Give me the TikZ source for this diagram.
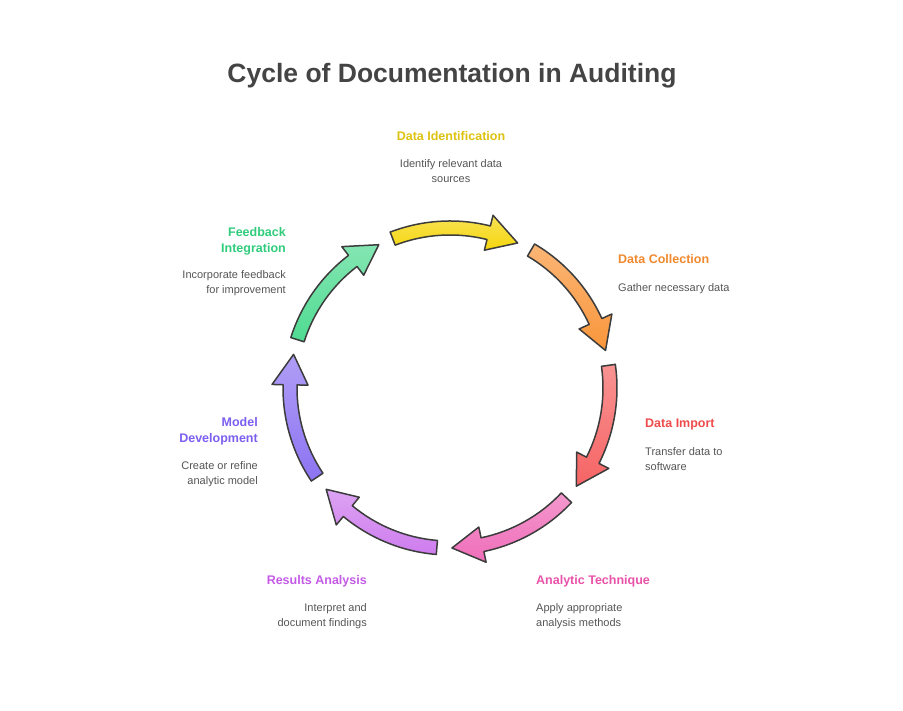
\documentclass[tikz,border=0pt]{standalone}
\usepackage{fontspec}
\setmainfont{Liberation Sans}
\usetikzlibrary{positioning}

\definecolor{titlegray}{HTML}{444444}
\definecolor{notegray}{HTML}{555555}
\definecolor{edgegray}{HTML}{3C3C3C}
% arrow fills
\definecolor{yel}{HTML}{F5D60C}
\definecolor{ora}{HTML}{F9963B}
\definecolor{red}{HTML}{F66464}
\definecolor{pnk}{HTML}{EF6DB9}
\definecolor{pur}{HTML}{CE7CEE}
\definecolor{vio}{HTML}{8D74F2}
\definecolor{grn}{HTML}{4FDB91}
% label texts
\definecolor{yelT}{HTML}{DDC20F}
\definecolor{oraT}{HTML}{F0892E}
\definecolor{redT}{HTML}{EE4C4C}
\definecolor{pnkT}{HTML}{E852A8}
\definecolor{purT}{HTML}{C45AE6}
\definecolor{vioT}{HTML}{7C5FEF}
\definecolor{grnT}{HTML}{30CC7C}

\begin{document}
\begin{tikzpicture}[x=1pt,y=1pt,
    stage/.style={font=\fontsize{12.5}{16}\selectfont\bfseries, inner sep=0pt},
    note/.style={font=\fontsize{11}{15.5}\selectfont, text=notegray, inner sep=0pt},
    ringarrow/.style={draw=edgegray, line width=1.5pt, line join=round}]
    \useasboundingbox (0,0) rectangle (903,711);

    \node[font=\fontsize{26.5}{30}\selectfont\bfseries, text=titlegray, anchor=base] (title) at (452,628) {Cycle of Documentation in Auditing};

    % ring of seven arrows
    \begin{scope}[shift={(450,323)}]
        \foreach \m/\cl in {88/yel,36.57/ora,-14.86/red,-66.29/pnk,-117.71/pur,-169.14/vio,139.43/grn}{
            \pgfmathsetmacro\aS{\m+23}
            \pgfmathsetmacro\aT{\m-23}
            \pgfmathsetmacro\aH{\m-12}
            \path[ringarrow, top color=\cl!70!white, bottom color=\cl]
                (\aS:167) arc[start angle=\aS, end angle=\aH, radius=167]
                -- (\aH:178) -- (\aT:160) -- (\aH:142) -- (\aH:153)
                arc[start angle=\aH, end angle=\aS, radius=153] -- cycle;
        }
    \end{scope}

    \node[stage, text=yelT, anchor=base] (identT) at (451,570) {Data Identification};
    \node[note, align=center, below=18pt of identT.base] (identN) {Identify relevant data\\sources};

    \node[stage, text=oraT, anchor=base west] (collT) at (618,447) {Data Collection};
    \node[note, align=left, below right=19pt and 0pt of collT.base west] (collN) {Gather necessary data};

    \node[stage, text=redT, anchor=base west] (impT) at (645,283) {Data Import};
    \node[note, align=left, below right=19pt and 0pt of impT.base west] (impN) {Transfer data to\\software};

    \node[stage, text=pnkT, anchor=base west] (techT) at (536,126) {Analytic Technique};
    \node[note, align=left, below right=18pt and 0pt of techT.base west] (techN) {Apply appropriate\\analysis methods};

    \node[stage, text=purT, anchor=base east] (resT) at (367,126) {Results Analysis};
    \node[note, align=right, below left=18pt and 0pt of resT.base east] (resN) {Interpret and\\document findings};

    \node[stage, text=vioT, align=right, anchor=north east] (modT) at (258,294) {Model\\Development};
    \node[note, align=right, below left=16pt and 0pt of modT.south east] (modN) {Create or refine\\analytic model};

    \node[stage, text=grnT, align=right, anchor=north east] (feedT) at (286,484) {Feedback\\Integration};
    \node[note, align=right, below left=15pt and 0pt of feedT.south east] (feedN) {Incorporate feedback\\for improvement};
\end{tikzpicture}
\end{document}
